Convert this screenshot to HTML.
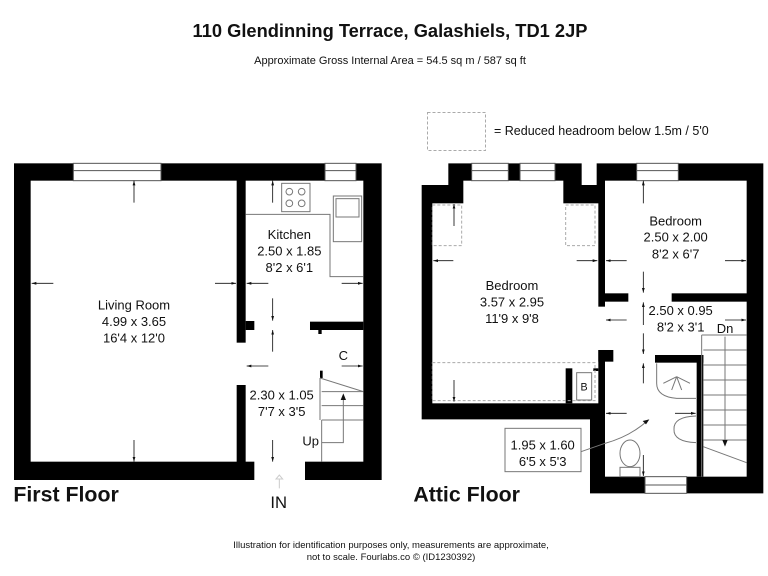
<!DOCTYPE html>
<html><head><meta charset="utf-8"><style>
html,body{margin:0;padding:0;background:#fff}
svg{display:block}
text{font-family:"Liberation Sans",Arial,sans-serif;fill:#111}
</style></head><body>
<svg width="768" height="576" viewBox="0 0 768 576" xmlns="http://www.w3.org/2000/svg">
<defs>
<marker id="ahz" viewBox="0 0 10 10" refX="10" refY="5" markerWidth="14" markerHeight="14" orient="auto" markerUnits="userSpaceOnUse"><path d="M0,2 L10,5 L0,8 z" fill="#111"/></marker>
</defs>
<rect width="768" height="576" fill="#fff"/>
<text x="390" y="37" font-size="18.3" font-weight="bold" text-anchor="middle">110 Glendinning Terrace, Galashiels, TD1 2JP</text>
<text x="390" y="64" font-size="11" text-anchor="middle">Approximate Gross Internal Area = 54.5 sq m / 587 sq ft</text>
<rect x="427.5" y="112.5" width="58" height="38" fill="none" stroke="#aaa" stroke-dasharray="3,2"/>
<text x="494" y="135" font-size="12.5">= Reduced headroom below 1.5m / 5'0</text>

<!-- First floor -->
<g transform="translate(0,150) scale(0.33333)">
<rect x="42" y="40" width="1103" height="950" fill="#000"/>
<rect x="92" y="92" width="618" height="843" fill="#fff"/>
<rect x="737" y="92" width="353" height="843" fill="#fff"/>
<rect x="705" y="578" width="40" height="127" fill="#fff"/>
<rect x="737" y="513" width="26" height="27" fill="#000"/>
<rect x="930" y="515" width="160" height="25" fill="#000"/>
<rect x="955" y="540" width="10" height="12" fill="#000"/>
<rect x="763" y="930" width="152" height="62" fill="#fff"/>
<rect x="220" y="40" width="263" height="52" fill="#fff" stroke="#555" stroke-width="3"/>
<line x1="220" y1="62" x2="483" y2="62" stroke="#555" stroke-width="3"/>
<rect x="975" y="40" width="93" height="52" fill="#fff" stroke="#555" stroke-width="3"/>
<line x1="975" y1="62" x2="1068" y2="62" stroke="#555" stroke-width="3"/>
<polyline points="737,193 990,193 990,380 1090,380" fill="none" stroke="#777" stroke-width="3"/>
<rect x="845" y="100" width="85" height="85" fill="#fff" stroke="#777" stroke-width="3"/>
<circle cx="868" cy="125" r="10" fill="none" stroke="#777" stroke-width="3"/><circle cx="905" cy="125" r="10" fill="none" stroke="#777" stroke-width="3"/>
<circle cx="868" cy="160" r="10" fill="none" stroke="#777" stroke-width="3"/><circle cx="905" cy="160" r="10" fill="none" stroke="#777" stroke-width="3"/>
<rect x="1000" y="138" width="85" height="137" fill="#fff" stroke="#777" stroke-width="3"/>
<rect x="1008" y="146" width="69" height="55" fill="none" stroke="#777" stroke-width="3"/>
<rect x="960" y="662" width="8" height="22" fill="#000"/>
<g stroke="#777" stroke-width="3" fill="none">
<line x1="960" y1="684" x2="1090" y2="725"/>
<line x1="960" y1="684" x2="960" y2="810"/>
<line x1="965" y1="725" x2="1090" y2="725"/>
<line x1="965" y1="767" x2="1090" y2="767"/>
<line x1="965" y1="810" x2="1090" y2="810"/>
<line x1="965" y1="810" x2="965" y2="935"/>
<polyline points="965,878 1030,878 1030,735"/>
</g>
<path d="M1030,730 l-8,20 h16 z" fill="#111"/>
<g stroke="#111" stroke-width="2.5" fill="none" marker-end="url(#ahz)">
<line x1="402" y1="158" x2="402" y2="92"/><line x1="402" y1="870" x2="402" y2="935"/>
<line x1="160" y1="400" x2="95" y2="400"/><line x1="645" y1="400" x2="708" y2="400"/>
<line x1="818" y1="158" x2="818" y2="92"/><line x1="818" y1="445" x2="818" y2="512"/>
<line x1="805" y1="400" x2="740" y2="400"/><line x1="1025" y1="400" x2="1088" y2="400"/>
<line x1="818" y1="605" x2="818" y2="540"/><line x1="818" y1="870" x2="818" y2="935"/>
<line x1="805" y1="648" x2="740" y2="648"/><line x1="1025" y1="648" x2="1088" y2="648"/>
</g>
<path d="M838,1015 v-28 h-10 l10,-12 l10,12 h-10" fill="none" stroke="#ccc" stroke-width="3"/>
<g font-size="39" text-anchor="middle">
<text x="402" y="478">Living Room</text><text x="402" y="528">4.99 x 3.65</text><text x="402" y="578">16'4 x 12'0</text>
<text x="868" y="267">Kitchen</text><text x="868" y="316">2.50 x 1.85</text><text x="868" y="366">8'2 x 6'1</text>
<text x="845" y="748">2.30 x 1.05</text><text x="845" y="798">7'7 x 3'5</text>
<text x="1030" y="630">C</text><text x="932" y="886">Up</text>
<text x="836" y="1074" font-size="50">IN</text>
</g>
<text x="40" y="1055" font-size="64" font-weight="bold">First Floor</text>
</g>

<!-- Attic -->
<g transform="translate(400,150) scale(0.33333)">
<polygon points="65,105 145,105 145,40 545,40 545,105 590,105 590,40 1090,40 1090,1030 570,1030 570,808 65,808" fill="#000"/>
<rect x="97" y="160" width="498" height="600" fill="#fff"/>
<rect x="190" y="92" width="300" height="70" fill="#fff"/>
<rect x="615" y="92" width="425" height="338" fill="#fff"/>
<rect x="685" y="428" width="130" height="30" fill="#fff"/>
<rect x="615" y="455" width="425" height="525" fill="#fff"/>
<rect x="590" y="470" width="30" height="130" fill="#fff"/>
<rect x="595" y="600" width="45" height="35" fill="#000"/>
<rect x="765" y="615" width="145" height="23" fill="#000"/>
<rect x="890" y="615" width="20" height="365" fill="#000"/>
<rect x="497" y="655" width="20" height="105" fill="#000"/>
<rect x="580" y="655" width="15" height="8" fill="#000"/>
<g fill="#fff" stroke="#555" stroke-width="3">
<rect x="215" y="40" width="110" height="52"/><rect x="360" y="40" width="105" height="52"/>
<rect x="710" y="40" width="125" height="52"/><rect x="735" y="980" width="125" height="50"/>
</g>
<g stroke="#555" stroke-width="3"><line x1="215" y1="62" x2="325" y2="62"/><line x1="360" y1="62" x2="465" y2="62"/><line x1="710" y1="62" x2="835" y2="62"/><line x1="735" y1="1005" x2="860" y2="1005"/></g>
<g fill="none" stroke="#aaa" stroke-width="3" stroke-dasharray="9,6">
<rect x="97" y="165" width="88" height="122"/><rect x="497" y="165" width="88" height="122"/><rect x="97" y="638" width="488" height="114"/>
</g>
<rect x="530" y="668" width="45" height="82" fill="#fff" stroke="#777" stroke-width="3"/>
<text x="552" y="722" font-size="32" text-anchor="middle">B</text>
<g stroke="#777" stroke-width="3" fill="none">
<line x1="905" y1="555" x2="1040" y2="555"/><line x1="905" y1="555" x2="905" y2="980"/>
<line x1="910" y1="600" x2="1040" y2="600"/><line x1="910" y1="645" x2="1040" y2="645"/><line x1="910" y1="690" x2="1040" y2="690"/><line x1="910" y1="735" x2="1040" y2="735"/><line x1="910" y1="780" x2="1040" y2="780"/><line x1="910" y1="825" x2="1040" y2="825"/><line x1="910" y1="870" x2="1040" y2="870"/>
<line x1="910" y1="890" x2="1040" y2="938"/>
<line x1="975" y1="560" x2="975" y2="870"/>
</g>
<path d="M975,890 l-8,-20 h16 z" fill="#111"/>
<g stroke="#777" stroke-width="3" fill="none">
<path d="M770,640 V700 Q770,740 830,745 H888"/>
<line x1="830" y1="680" x2="790" y2="700"/><line x1="830" y1="680" x2="815" y2="720"/><line x1="830" y1="680" x2="845" y2="720"/><line x1="830" y1="680" x2="870" y2="700"/>
<path d="M888,798 Q820,800 822,838 Q820,875 888,878"/>
<ellipse cx="690" cy="910" rx="30" ry="40"/>
<rect x="660" y="952" width="60" height="28"/>
<path d="M615,880 Q690,860 745,810"/>
<rect x="315" y="835" width="228" height="130" fill="#fff"/>
<line x1="543" y1="905" x2="615" y2="880"/>
</g>
<path d="M748,808 l-20,5 l10,10 z" fill="#111"/>
<g stroke="#111" stroke-width="2.5" fill="none" marker-end="url(#ahz)">
<line x1="162" y1="228" x2="162" y2="162"/><line x1="162" y1="690" x2="162" y2="755"/>
<line x1="160" y1="332" x2="100" y2="332"/><line x1="530" y1="332" x2="592" y2="332"/>
<line x1="730" y1="160" x2="730" y2="92"/><line x1="730" y1="365" x2="730" y2="428"/>
<line x1="680" y1="332" x2="618" y2="332"/><line x1="975" y1="332" x2="1038" y2="332"/>
<line x1="730" y1="525" x2="730" y2="457"/><line x1="730" y1="550" x2="730" y2="612"/>
<line x1="680" y1="510" x2="618" y2="510"/><line x1="975" y1="510" x2="1038" y2="510"/>
<line x1="730" y1="700" x2="730" y2="640"/><line x1="730" y1="915" x2="730" y2="978"/>
<line x1="680" y1="790" x2="618" y2="790"/><line x1="825" y1="790" x2="887" y2="790"/>
</g>
<g font-size="39" text-anchor="middle">
<text x="336" y="420">Bedroom</text><text x="336" y="469">3.57 x 2.95</text><text x="336" y="519">11'9 x 9'8</text>
<text x="827" y="226">Bedroom</text><text x="827" y="275">2.50 x 2.00</text><text x="827" y="325">8'2 x 6'7</text>
<text x="842" y="495">2.50 x 0.95</text><text x="842" y="545">8'2 x 3'1</text>
<text x="975" y="549">Dn</text>
<text x="428" y="898">1.95 x 1.60</text><text x="428" y="948">6'5 x 5'3</text>
</g>
<text x="40" y="1055" font-size="64" font-weight="bold">Attic Floor</text>
</g>

<text x="391" y="548" font-size="9.5" text-anchor="middle">Illustration for identification purposes only, measurements are approximate,</text>
<text x="391" y="560" font-size="9.5" text-anchor="middle">not to scale. Fourlabs.co © (ID1230392)</text>
</svg>
</body></html>
